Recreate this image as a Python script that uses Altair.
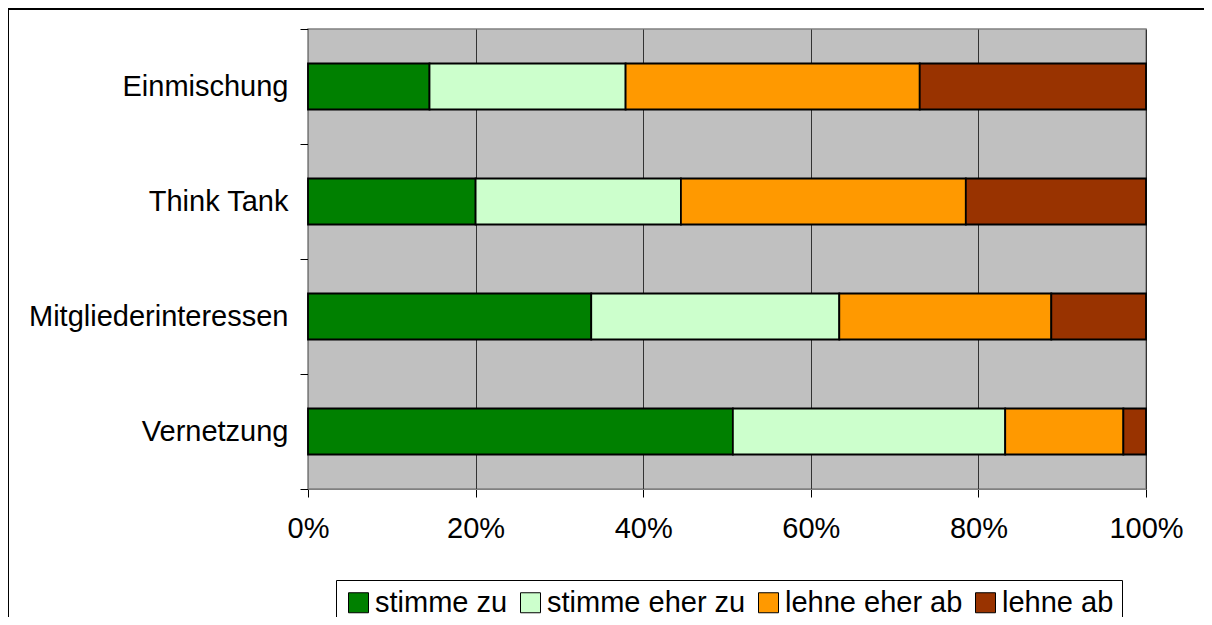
import altair as alt
import pandas as pd

categories = ["Einmischung", "Think Tank", "Mitgliederinteressen", "Vernetzung"]
answers = ["stimme zu", "stimme eher zu", "lehne eher ab", "lehne ab"]
colors = ["#008000", "#CCFFCC", "#FF9900", "#993300"]

stimme_zu = [14.5, 20.0, 33.8, 50.7]
stimme_eher_zu = [23.4, 24.5, 29.6, 32.5]
lehne_eher_ab = [35.1, 34.0, 25.3, 14.1]
lehne_ab = [27.0, 21.5, 11.3, 2.7]

series = [stimme_zu, stimme_eher_zu, lehne_eher_ab, lehne_ab]
rows = []
for ai, (ans, vals) in enumerate(zip(answers, series)):
    for cat, v in zip(categories, vals):
        rows.append({"Kategorie": cat, "Antwort": ans, "Wert": v, "rank": ai})
df = pd.DataFrame(rows)

FONT = "Liberation Sans"
FS = 29

bars = alt.Chart(df).mark_bar(
    stroke="black", strokeWidth=1.8, height=alt.RelativeBandSize(0.4)
).encode(
    y=alt.Y("Kategorie:N", sort=categories,
            scale=alt.Scale(paddingInner=0, paddingOuter=0),
            axis=alt.Axis(title=None, labelFont=FONT, labelFontSize=FS, labelColor="black",
                          tickBand="extent", tickSize=8, tickColor="black", labelPadding=12,
                          labelLimit=0, domainColor="#808080", grid=False)),
    x=alt.X("Wert:Q", stack="normalize",
            scale=alt.Scale(domain=[0, 1]),
            axis=alt.Axis(title=None, format="%", values=[0, 0.2, 0.4, 0.6, 0.8, 1.0],
                          labelFont=FONT, labelFontSize=FS, labelColor="black",
                          tickSize=8, tickColor="black", labelPadding=17,
                          domainColor="#808080", grid=True, gridColor="#333333",
                          gridWidth=1, labelFlush=False)),
    color=alt.Color("Antwort:N", sort=answers,
                    scale=alt.Scale(domain=answers, range=colors),
                    legend=alt.Legend(title=None, orient="none", legendX=28, legendY=551,
                                      direction="horizontal", strokeColor="black",
                                      fillColor="white", padding=8,
                                      labelFont=FONT, labelFontSize=FS, labelColor="black",
                                      labelLimit=0,
                                      symbolType="square", symbolSize=400,
                                      symbolStrokeColor="black", symbolStrokeWidth=1,
                                      labelOffset=2, columnPadding=8)),
    order=alt.Order("rank:Q", sort="ascending"),
)

frame_top = alt.Chart(df).mark_rule(color="black", strokeWidth=1.5).encode(
    x=alt.value(-300), x2=alt.value(920), y=alt.value(-20)
)
frame_left = alt.Chart(df).mark_rule(color="black", strokeWidth=1.5).encode(
    x=alt.value(-300), y=alt.value(-20), y2=alt.value(640)
)

chart = alt.layer(bars, frame_top, frame_left).properties(
    width=838, height=460,
    autosize=alt.AutoSizeParams(type="none"),
    padding={"left": 300, "top": 21, "right": 58, "bottom": 128},
    background="white",
).configure_view(
    fill="#C0C0C0", stroke="#808080", strokeWidth=1.5
)

chart.save("out.html", embed_options={"renderer": "svg", "actions": False})
